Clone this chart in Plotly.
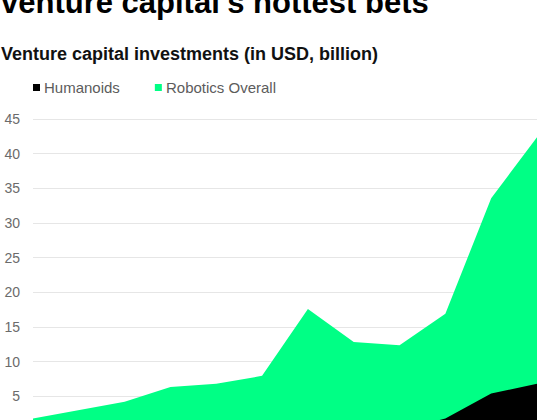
import plotly.graph_objects as go

# ---- data ----
years = [2014, 2015, 2016, 2017, 2018, 2019, 2020, 2021, 2022, 2023, 2024, 2025]
robotics_overall = [1.8, 3.0, 4.2, 6.35, 6.8, 7.95, 17.6, 12.85, 12.35, 16.9, 33.6, 42.4]
humanoids = [0, 0, 0, 0, 0, 0, 0, 0, 0, 1.8, 5.4, 6.8]
y_ticks = [5, 10, 15, 20, 25, 30, 35, 40, 45]

GREEN = "#00FF85"
W, H = 560, 420
L, R, T, B = 33.3, 23.3, 100, 0

def px_x(p):
    return (p - L) / (W - L - R)

def px_y(p):
    return (H - B - p) / (H - T - B)

fig = go.Figure()
fig.add_trace(go.Scatter(
    x=years, y=robotics_overall, mode="lines", fill="tozeroy",
    line=dict(width=0, color=GREEN), fillcolor=GREEN,
    name="Robotics Overall", showlegend=False, hoverinfo="skip"))
fig.add_trace(go.Scatter(
    x=years, y=humanoids, mode="lines", fill="tozeroy",
    line=dict(width=0, color="#000000"), fillcolor="#000000",
    name="Humanoids", showlegend=False, hoverinfo="skip"))

# titles
fig.add_annotation(text="venture capital's hottest bets", xref="paper", yref="paper",
                   x=px_x(-1), y=px_y(22), xanchor="left", yanchor="bottom",
                   showarrow=False,
                   font=dict(family="Liberation Sans", size=31, color="#000", weight="bold"))
fig.add_annotation(text="Venture capital investments (in USD, billion)", xref="paper", yref="paper",
                   x=px_x(-1), y=px_y(54), xanchor="left", yanchor="middle",
                   showarrow=False,
                   font=dict(family="Liberation Sans", size=18, color="#111", weight="bold"))

# legend
legend_items = [("Humanoids", "#000000", 33.3), ("Robotics Overall", GREEN, 155)]
for label, col, x0 in legend_items:
    fig.add_shape(type="rect", xref="paper", yref="paper",
                  x0=px_x(x0), x1=px_x(x0 + 7), y0=px_y(91), y1=px_y(84),
                  fillcolor=col, line=dict(width=0))
    fig.add_annotation(text=label, xref="paper", yref="paper",
                       x=px_x(x0 + 9), y=px_y(87.5), xanchor="left", yanchor="middle",
                       showarrow=False,
                       font=dict(family="Liberation Sans", size=15, color="#5c5c5c"))

fig.update_layout(
    width=W, height=H,
    margin=dict(l=L, r=R, t=T, b=B, pad=0),
    paper_bgcolor="white", plot_bgcolor="white",
    showlegend=False,
)
fig.update_xaxes(range=[years[0], years[-1]], visible=False, showgrid=False)
fig.update_yaxes(range=[1.574, 47.78], tickvals=y_ticks, showgrid=True,
                 gridcolor="#e6e6e6", gridwidth=1, zeroline=False, showline=False,
                 ticks="", ticklabelstandoff=12, automargin=False,
                 tickfont=dict(family="Liberation Sans", size=14, color="#6b6b6b"))

fig.write_html("out.html", config={"displayModeBar": False, "staticPlot": True},
               post_script="document.body.style.margin='0';document.body.style.overflow='hidden';")
